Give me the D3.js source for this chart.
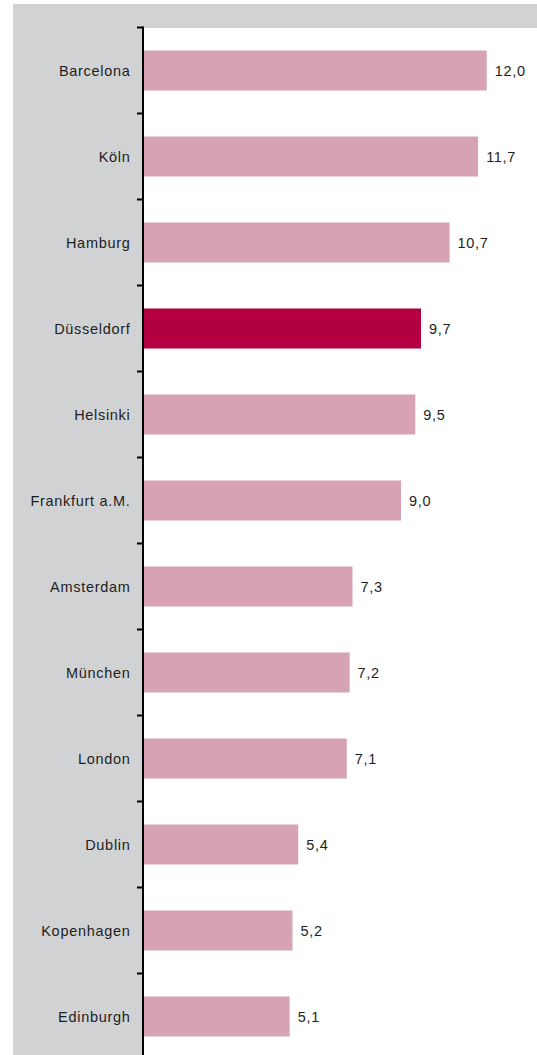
<!DOCTYPE html>
<html>
<head>
<meta charset="utf-8">
<script src="https://cdn.jsdelivr.net/npm/d3@7"></script>
<style>
  html, body { margin: 0; padding: 0; background: #ffffff; }
  svg { display: block; }
  text { font-family: "Liberation Sans", Arial, sans-serif; fill: #1e1e1e; letter-spacing: 0.7px; }
</style>
</head>
<body>
<svg id="chart" width="537" height="1055"></svg>
<script>
// Cities, ordered top to bottom
const cities = ["Barcelona", "Köln", "Hamburg", "Düsseldorf", "Helsinki", "Frankfurt a.M.",
  "Amsterdam", "München", "London", "Dublin", "Kopenhagen", "Edinburgh"];
// Values per city
const values = [12.0, 11.7, 10.7, 9.7, 9.5, 9.0, 7.3, 7.2, 7.1, 5.4, 5.2, 5.1];
// City drawn in the accent colour
const highlight = ["Düsseldorf"];

const data = cities.map((c, i) => ({ city: c, value: values[i] }));

const W = 537, H = 1055;
const axisX = 143;
const svg = d3.select("#chart");

const x = d3.scaleLinear().domain([0, 12]).range([axisX + 1, 486.7]);
const y = d3.scaleBand()
  .domain(cities)
  .range([27.5, 27.5 + 86 * cities.length])
  .paddingInner(0.535)
  .paddingOuter(0.2675);

// Grey label panel and top strip
svg.append("rect").attr("x", 13).attr("y", 4).attr("width", axisX - 13).attr("height", H - 4)
  .attr("fill", "#d1d2d4");
svg.append("rect").attr("x", 13).attr("y", 4).attr("width", W - 13).attr("height", 24)
  .attr("fill", "#d1d2d4");

// Bars
svg.append("g").selectAll("rect").data(data).join("rect")
  .attr("x", x(0))
  .attr("y", d => y(d.city))
  .attr("width", d => x(d.value) - x(0))
  .attr("height", y.bandwidth())
  .attr("fill", d => highlight.includes(d.city) ? "#b30042" : "#d7a2b4");

// Value labels
const fmt = d3.format(".1f");
svg.append("g").selectAll("text").data(data).join("text")
  .attr("x", d => x(d.value) + 8)
  .attr("y", d => y(d.city) + y.bandwidth() / 2)
  .attr("dy", "0.35em")
  .attr("font-size", 14.5)
  .text(d => fmt(d.value).replace(".", ","));

// Category labels
svg.append("g").selectAll("text").data(data).join("text")
  .attr("x", 130.5)
  .attr("y", d => y(d.city) + y.bandwidth() / 2)
  .attr("dy", "0.35em")
  .attr("text-anchor", "end")
  .attr("font-size", 14.5)
  .text(d => d.city);

// Axis line with ticks at the band boundaries
const boundaries = cities.map(c => y(c) - y.step() * y.paddingInner() / 2);
const axis = svg.append("g");
axis.append("line")
  .attr("x1", axisX).attr("x2", axisX)
  .attr("y1", boundaries[0] - 1).attr("y2", H)
  .attr("stroke", "#000").attr("stroke-width", 2);
axis.selectAll("line.tick").data(boundaries).join("line")
  .attr("class", "tick")
  .attr("x1", axisX - 6).attr("x2", axisX)
  .attr("y1", d => d).attr("y2", d => d)
  .attr("stroke", "#000").attr("stroke-width", 2);
</script>
</body>
</html>
